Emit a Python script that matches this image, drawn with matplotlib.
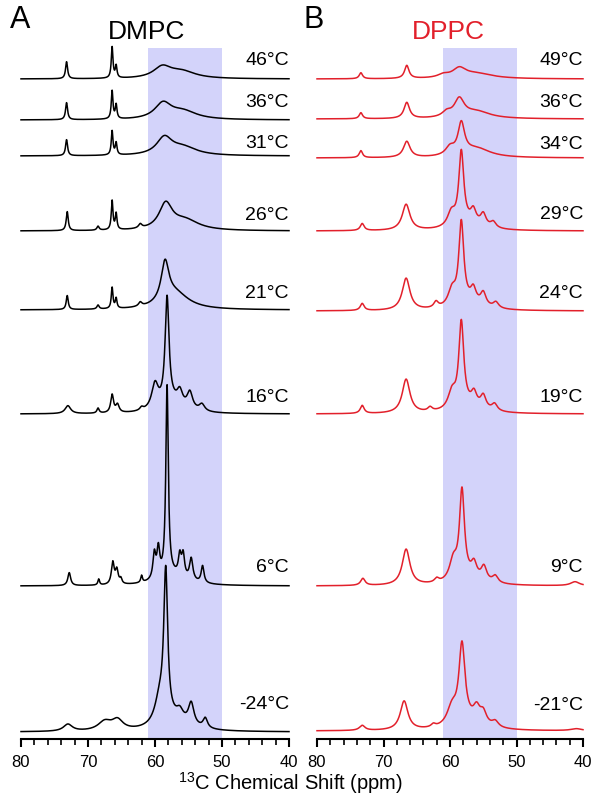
import numpy as np
import matplotlib
matplotlib.use("Agg")
import matplotlib.pyplot as plt

plt.rcParams['font.family'] = ['Liberation Sans', 'DejaVu Sans']
plt.rcParams['mathtext.fontset'] = 'custom'
plt.rcParams['mathtext.rm'] = 'Liberation Sans'

# chemical shift axis (ppm)
ppm = np.linspace(80, 40, 3000)

# DMPC panel: labels, baseline offsets (px above axis), label heights, peaks (ppm, height, half-width)
dmpc_temps = ["46°C", "36°C", "31°C", "26°C", "21°C", "16°C", "6°C", "-24°C"]
dmpc_offset = [660, 619, 583, 508, 429, 325, 153, 7]
dmpc_label_y = [680, 638, 597, 525, 447, 343, 172, 35]
dmpc_peaks = [
    [(73.2, 17, 0.18), (66.4, 31, 0.15), (65.8, 12, 0.15), (58.9, 11, 1.6), (56.0, 7, 2.5)],
    [(73.2, 17, 0.18), (66.4, 28, 0.15), (65.8, 14, 0.15), (58.8, 15.5, 1.5), (55.8, 8, 2.5)],
    [(73.2, 16, 0.18), (66.4, 24, 0.15), (65.8, 12, 0.15), (58.6, 17, 1.4), (55.8, 8, 2.5)],
    [(73.1, 19, 0.18), (68.5, 4, 0.2), (66.4, 29, 0.15), (65.8, 16, 0.15), (62.2, 4, 0.3),
     (58.4, 25.5, 1.2), (55.5, 10, 2.5)],
    [(73.1, 14, 0.18), (68.5, 4, 0.2), (66.4, 21, 0.15), (65.8, 10, 0.15), (62.2, 4, 0.3),
     (58.5, 39, 0.7), (57.0, 16, 2.5)],
    [(73.0, 8, 0.5), (68.5, 5, 0.2), (66.4, 18, 0.25), (65.6, 8, 0.3), (62.0, 3, 0.3),
     (60.0, 25, 0.6), (58.2, 106, 0.35), (56.3, 14, 0.5), (54.8, 17, 0.5), (53.0, 7, 0.5),
     (57.5, 10, 2.0)],
    [(72.8, 13, 0.25), (68.4, 6, 0.15), (66.3, 22, 0.25), (65.7, 14, 0.25), (65.1, 5, 0.2),
     (62.0, 7, 0.15), (60.1, 25, 0.25), (59.5, 28, 0.25), (58.2, 190, 0.22), (56.3, 20, 0.25),
     (55.8, 22, 0.25), (54.6, 22, 0.3), (52.9, 17, 0.25), (57.5, 10, 2.5)],
    [(73.0, 7, 0.8), (67.5, 9, 1.2), (65.6, 10, 1.0), (59.3, 25, 0.9), (58.4, 145, 0.35),
     (56.3, 9, 0.6), (54.6, 22, 0.5), (52.5, 10, 0.4), (57.0, 10, 2.5)],
]

# DPPC panel
dppc_temps = ["49°C", "36°C", "34°C", "29°C", "24°C", "19°C", "9°C", "-21°C"]
dppc_offset = [660, 620, 581, 508, 428, 325, 153, 8]
dppc_label_y = [680, 638, 596, 526, 447, 343, 172, 34]
dppc_peaks = [
    [(73.4, 6, 0.3), (66.5, 13, 0.4), (61.0, 3, 1.0), (58.6, 9, 1.2), (56.0, 5, 3.0)],
    [(73.4, 6, 0.3), (66.5, 16, 0.5), (60.5, 5, 0.8), (58.6, 18, 0.9), (56.0, 7, 2.5)],
    [(73.4, 7, 0.3), (66.5, 16, 0.6), (60.0, 8, 0.8), (58.3, 31, 0.6), (56.0, 9, 2.5)],
    [(73.2, 7, 0.35), (66.6, 26, 0.7), (59.8, 14, 0.7), (58.3, 73, 0.45), (56.5, 13, 0.5),
     (55.0, 12, 0.5), (53.5, 6, 0.5), (57.0, 6, 2.5)],
    [(73.2, 7, 0.35), (66.6, 32, 0.7), (62.1, 6, 0.4), (59.7, 16, 0.7), (58.3, 82, 0.45),
     (56.5, 14, 0.5), (55.0, 13, 0.5), (53.1, 6, 0.5), (57.0, 6, 2.5)],
    [(73.2, 8, 0.35), (66.6, 34, 0.7), (63.0, 4, 0.4), (59.7, 17, 0.7), (58.3, 85, 0.45),
     (56.4, 13, 0.5), (55.0, 13, 0.5), (53.3, 7, 0.5), (57.0, 6, 2.5)],
    [(73.1, 7, 0.4), (66.6, 36, 0.7), (62.0, 4, 0.4), (59.5, 20, 0.7), (58.2, 88, 0.45),
     (56.4, 14, 0.5), (54.9, 14, 0.5), (53.2, 7, 0.5), (57.0, 6, 2.5), (41.2, 4, 0.8)],
    [(73.2, 5, 0.5), (66.9, 29, 0.7), (62.5, 3, 0.4), (59.7, 18, 0.9), (58.2, 78, 0.55),
     (56.0, 14, 0.6), (55.0, 12, 0.6), (53.2, 6, 0.6), (57.0, 7, 2.5), (41.0, 2, 1.0)],
]


def spectrum(peaks):
    y = np.zeros_like(ppm)
    for c, h, w in peaks:
        y += h / (1 + ((ppm - c) / w) ** 2)
    return y


fig = plt.figure(figsize=(6.01, 8.04), dpi=100)
ax1 = fig.add_axes([21 / 601, 64 / 804, 268 / 601, 691 / 804])
ax2 = fig.add_axes([317 / 601, 64 / 804, 266 / 601, 691 / 804])

panels = [
    (ax1, dmpc_temps, dmpc_offset, dmpc_label_y, dmpc_peaks, "black"),
    (ax2, dppc_temps, dppc_offset, dppc_label_y, dppc_peaks, "#e2202b"),
]

for ax, temps, offs, laby, peaks, col in panels:
    ax.axvspan(50, 61, color="#d3d3fa", lw=0, zorder=0)
    for t, off, ly, pk in zip(temps, offs, laby, peaks):
        ax.plot(ppm, off + spectrum(pk), color=col, lw=1.1, clip_on=False)
        ax.text(40, ly, t, ha="right", va="center", fontsize=14)
    ax.set_xlim(80, 40)
    ax.set_ylim(0, 691)
    for s in ["left", "right", "top"]:
        ax.spines[s].set_visible(False)
    ax.spines["bottom"].set_linewidth(1.5)
    ax.set_yticks([])
    ax.set_xticks([80, 70, 60, 50, 40])
    ax.set_xticks(np.arange(40, 81, 2), minor=True)
    ax.tick_params(axis="x", which="major", length=6, width=1.5, labelsize=12, pad=5)
    ax.tick_params(axis="x", which="minor", length=4, width=1.2)

fig.text(10 / 601, 1 - 20 / 804, "A", fontsize=22, ha="left", va="center")
fig.text(303 / 601, 1 - 20 / 804, "B", fontsize=22, ha="left", va="center")
fig.text(147 / 601, 1 - 32 / 804, "DMPC", fontsize=19, ha="center", va="center")
fig.text(448 / 601, 1 - 32 / 804, "DPPC", fontsize=19, ha="center", va="center", color="#e2202b")
fig.text(291 / 601, 1 - 783 / 804, "$^{13}$C Chemical Shift (ppm)", fontsize=14.5,
         ha="center", va="center")

fig.savefig("out.png", dpi=100)
